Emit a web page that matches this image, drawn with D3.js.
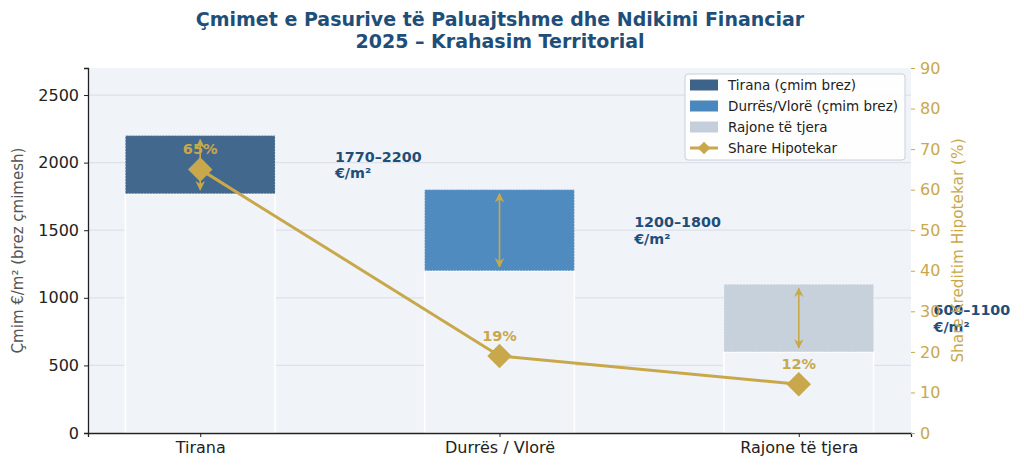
<!DOCTYPE html>
<html>
<head>
<meta charset="utf-8">
<script src="https://cdn.jsdelivr.net/npm/d3@7"></script>
<style>
  html, body { margin: 0; padding: 0; background: #fff; }
  svg { display: block; font-family: "DejaVu Sans", sans-serif; }
</style>
</head>
<body>
<div id="chart"></div>
<script>
// Data
const categories = ["Tirana", "Durrës / Vlorë", "Rajone të tjera"];
const priceLow = [1770, 1200, 600];
const priceHigh = [2200, 1800, 1100];
const mortgageShare = [65, 19, 12];
const rangeLabels = ["1770–2200", "1200–1800", "600–1100"];
const legendLabels = ["Tirana (çmim brez)", "Durrës/Vlorë (çmim brez)", "Rajone të tjera", "Share Hipotekar"];
const leftTicks = [0, 500, 1000, 1500, 2000, 2500];
const rightTicks = [0, 10, 20, 30, 40, 50, 60, 70, 80, 90];

const barColors = ["#3d6389", "#4a87bd", "#c5cfdb"];
const gold = "#c9a84c";
const navy = "#1f4e79";
const plotBg = "#f0f4f9";

const width = 1024, height = 473;
const margin = { top: 68, right: 113, bottom: 40, left: 88 };
const x0 = margin.left, x1 = width - margin.right;
const y0 = height - margin.bottom, y1 = margin.top;

const svg = d3.select("#chart").append("svg")
  .attr("width", width).attr("height", height);

const xScale = d3.scaleLinear().domain([-0.375, 2.375]).range([x0, x1]);
const yLeft = d3.scaleLinear().domain([0, 2700]).range([y0, y1]);
const yRight = d3.scaleLinear().domain([0, 90]).range([y0, y1]);
const barW = xScale(0.5) - xScale(0);

// Title
const title = svg.append("text")
  .attr("text-anchor", "middle")
  .attr("fill", navy).attr("font-weight", "bold").attr("font-size", 19);
title.append("tspan").attr("x", 500).attr("y", 26)
  .text("Çmimet e Pasurive të Paluajtshme dhe Ndikimi Financiar");
title.append("tspan").attr("x", 500).attr("y", 48)
  .text("2025 – Krahasim Territorial");

// Plot background
svg.append("rect")
  .attr("x", x0).attr("y", y1)
  .attr("width", x1 - x0).attr("height", y0 - y1)
  .attr("fill", plotBg);

// Grid lines (left axis)
svg.append("g").selectAll("line")
  .data(leftTicks.filter(d => d > 0))
  .enter().append("line")
  .attr("x1", x0).attr("x2", x1)
  .attr("y1", d => yLeft(d)).attr("y2", d => yLeft(d))
  .attr("stroke", "#dde2ea").attr("stroke-width", 1.2);

// Base bars (background fill, white edge)
svg.append("g").selectAll("rect")
  .data(priceLow)
  .enter().append("rect")
  .attr("x", (d, i) => xScale(i) - barW / 2)
  .attr("y", d => yLeft(d))
  .attr("width", barW)
  .attr("height", d => yLeft(0) - yLeft(d))
  .attr("fill", plotBg)
  .attr("stroke", "#fff").attr("stroke-width", 1.5);

// Price range bars
svg.append("g").selectAll("rect")
  .data(priceLow)
  .enter().append("rect")
  .attr("x", (d, i) => xScale(i) - barW / 2)
  .attr("y", (d, i) => yLeft(priceHigh[i]))
  .attr("width", barW)
  .attr("height", (d, i) => yLeft(d) - yLeft(priceHigh[i]))
  .attr("fill", (d, i) => barColors[i])
  .attr("fill-opacity", 0.97)
  .attr("stroke", "#fff").attr("stroke-opacity", 0.6)
  .attr("stroke-width", 1).attr("stroke-dasharray", "1,2");

// Double arrows inside range bars
const defs = svg.append("defs");
["arrowEnd", "arrowStart"].forEach((id, k) => {
  defs.append("marker")
    .attr("id", id)
    .attr("viewBox", "0 0 10 10")
    .attr("refX", 9).attr("refY", 5)
    .attr("markerWidth", 6).attr("markerHeight", 6)
    .attr("orient", k === 0 ? "auto" : "auto-start-reverse")
    .append("path")
    .attr("d", "M0,0 L10,5 L0,10 L3,5 Z")
    .attr("fill", gold);
});
svg.append("g").selectAll("line")
  .data(priceLow)
  .enter().append("line")
  .attr("x1", (d, i) => xScale(i)).attr("x2", (d, i) => xScale(i))
  .attr("y1", (d, i) => yLeft(priceHigh[i] - 30))
  .attr("y2", d => yLeft(d + 30))
  .attr("stroke", gold).attr("stroke-width", 1.6)
  .attr("marker-start", "url(#arrowStart)")
  .attr("marker-end", "url(#arrowEnd)");

// Range annotations
const ann = svg.append("g").selectAll("text")
  .data(rangeLabels)
  .enter().append("text")
  .attr("fill", navy).attr("font-weight", "bold").attr("font-size", 14.3)
  .attr("x", (d, i) => xScale(i + 0.45))
  .attr("y", (d, i) => yLeft((priceLow[i] + priceHigh[i]) / 2));
ann.append("tspan")
  .attr("x", (d, i) => xScale(i + 0.45)).attr("dy", -3)
  .text(d => d);
ann.append("tspan")
  .attr("x", (d, i) => xScale(i + 0.45)).attr("dy", 16.5)
  .text("€/m²");

// Mortgage share line
const line = d3.line()
  .x((d, i) => xScale(i))
  .y(d => yRight(d));
svg.append("path")
  .datum(mortgageShare)
  .attr("d", line)
  .attr("fill", "none")
  .attr("stroke", gold).attr("stroke-width", 3)
  .attr("stroke-linejoin", "round");

const diamond = d3.symbol().type(d3.symbolSquare).size(300);
svg.append("g").selectAll("path")
  .data(mortgageShare)
  .enter().append("path")
  .attr("d", diamond)
  .attr("transform", (d, i) => `translate(${xScale(i)},${yRight(d)}) rotate(45)`)
  .attr("fill", gold);

svg.append("g").selectAll("text")
  .data(mortgageShare)
  .enter().append("text")
  .attr("x", (d, i) => xScale(i))
  .attr("y", d => yRight(d) - 15)
  .attr("text-anchor", "middle")
  .attr("fill", gold).attr("font-weight", "bold").attr("font-size", 14.5)
  .text(d => d + "%");

// Left axis
const axisL = svg.append("g")
  .attr("transform", `translate(${x0},0)`)
  .call(d3.axisLeft(yLeft).tickValues(leftTicks).tickFormat(d3.format("d"))
    .tickSizeOuter(0).tickSize(4).tickPadding(5));
axisL.select(".domain").attr("stroke", "#222").attr("stroke-width", 1.3);
axisL.selectAll(".tick line").attr("stroke", "#222");
axisL.selectAll(".tick text")
  .attr("font-size", 16).attr("fill", "#222")
  .attr("font-family", "DejaVu Sans, sans-serif");

// Bottom axis
const axisB = svg.append("g")
  .attr("transform", `translate(0,${y0})`)
  .call(d3.axisBottom(xScale).tickValues([0, 1, 2])
    .tickFormat(i => categories[i]).tickSizeOuter(0).tickSize(4).tickPadding(5));
axisB.select(".domain").attr("stroke", "#222").attr("stroke-width", 1.3);
axisB.selectAll(".tick line").attr("stroke", "#222");
axisB.selectAll(".tick text")
  .attr("font-size", 16).attr("fill", "#222")
  .attr("font-family", "DejaVu Sans, sans-serif");

// Right axis
const axisR = svg.append("g")
  .attr("transform", `translate(${x1},0)`)
  .call(d3.axisRight(yRight).tickValues(rightTicks).tickSizeOuter(0).tickSize(4).tickPadding(5));
axisR.select(".domain").remove();
axisR.selectAll(".tick line").attr("stroke", gold);
axisR.selectAll(".tick text")
  .attr("font-size", 16).attr("fill", gold)
  .attr("font-family", "DejaVu Sans, sans-serif");

// Axis titles
svg.append("text")
  .attr("transform", `translate(23,${(y0 + y1) / 2}) rotate(-90)`)
  .attr("text-anchor", "middle")
  .attr("fill", "#555").attr("font-size", 15)
  .text("Çmim €/m² (brez çmimesh)");
svg.append("text")
  .attr("transform", `translate(963,${(y0 + y1) / 2}) rotate(-90)`)
  .attr("text-anchor", "middle")
  .attr("fill", gold).attr("font-size", 15.3)
  .text("Share Kreditim Hipotekar (%)");

// Legend
const lg = svg.append("g").attr("transform", "translate(685,74)");
lg.append("rect")
  .attr("width", 220).attr("height", 86)
  .attr("rx", 3)
  .attr("fill", "#fff").attr("fill-opacity", 0.9)
  .attr("stroke", "#c8d0dc").attr("stroke-width", 1);
legendLabels.forEach((label, i) => {
  const gy = 11 + i * 21;
  if (i < 3) {
    lg.append("rect")
      .attr("x", 5).attr("y", gy - 5.5)
      .attr("width", 28).attr("height", 11)
      .attr("fill", barColors[i]);
  } else {
    lg.append("line")
      .attr("x1", 5).attr("x2", 33).attr("y1", gy).attr("y2", gy)
      .attr("stroke", gold).attr("stroke-width", 3);
    lg.append("path")
      .attr("d", d3.symbol().type(d3.symbolSquare).size(80))
      .attr("transform", `translate(19,${gy}) rotate(45)`)
      .attr("fill", gold);
  }
  lg.append("text")
    .attr("x", 43).attr("y", gy + 4.5)
    .attr("font-size", 13.5).attr("fill", "#222")
    .text(label);
});
</script>
</body>
</html>
